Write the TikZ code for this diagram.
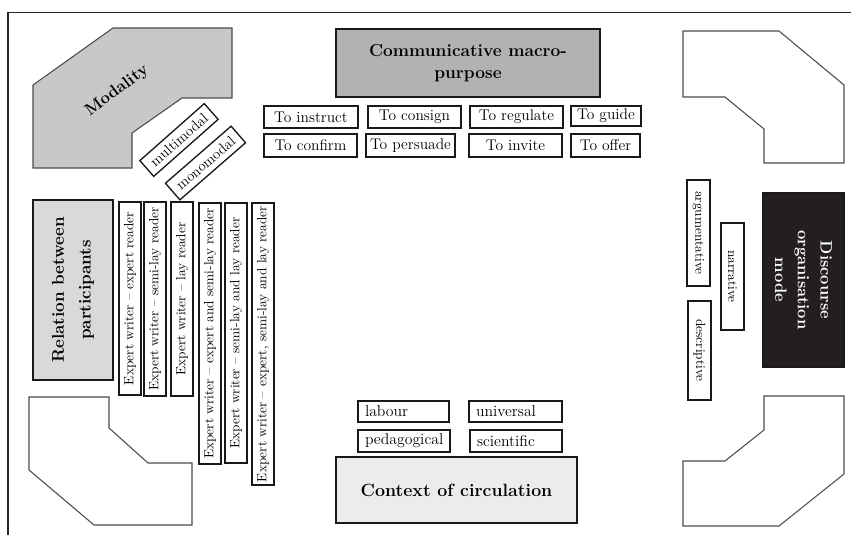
\documentclass[tikz,border=0pt]{standalone}
\usepackage{fontspec}
\begin{document}
\begin{tikzpicture}[x=0.75pt,y=-0.75pt,
  sz/.style 2 args={minimum width=#1*0.75pt, minimum height=#2*0.75pt},
  smallbox/.style={draw=black!90, line width=1pt, fill=white, inner sep=0pt, font=\fontsize{11.6}{13}\selectfont},
  vbox/.style={draw=black!90, line width=1pt, fill=white, inner sep=0pt, font=\fontsize{10}{12}\selectfont},
  bigbox/.style={draw=black!90, line width=1pt, inner sep=0pt, align=center, font=\bfseries\fontsize{13}{16.5}\selectfont},
  corner/.style={draw=black!70, line width=0.8pt, fill=white},
  leftbox/.style 2 args={draw=black!90, line width=1pt, fill=white, inner ysep=0pt, inner xsep=7*0.75pt,
     text width=(#1-14)*0.75pt, minimum height=#2*0.75pt, align=left, font=\fontsize{11.8}{13}\selectfont}
]
\useasboundingbox (0,0) rectangle (851,535);
% frame
\draw[line width=1pt, black!85] (8,535) -- (8,12.5) -- (851,12.5);

% corner shapes
\draw[corner, fill={rgb,255:red,200;green,200;blue,200}] (33,85) -- (113,28) -- (232,28) -- (232,98) -- (182,98) -- (132,133) -- (132,168) -- (33,168) -- cycle;
\draw[corner] (683,31) -- (779,31) -- (844,85) -- (844,163) -- (764,163) -- (764,129) -- (725,97) -- (683,97) -- cycle;
\draw[corner] (764,396) -- (844,396) -- (844,474) -- (779,526) -- (683,526) -- (683,461) -- (725,461) -- (764,430) -- cycle;
\draw[corner] (29,397) -- (109,397) -- (109,428) -- (148,463) -- (192,463) -- (192,525) -- (94,525) -- (29,470) -- cycle;

\node[font=\bfseries\fontsize{12.5}{14}\selectfont, rotate=37] (modality) at (117,91) {Modality};

% multimodal / monomodal
\node[smallbox, sz={86}{21}, rotate=41.5, font=\fontsize{11}{13}\selectfont] (multi) at (179,140) {multimodal};
\node[smallbox, sz={87}{22}, rotate=41, font=\fontsize{11}{13}\selectfont] (mono) at (205.5,163) {monomodal};

% communicative macro-purpose
\node[bigbox, sz={264}{68}, fill={rgb,255:red,178;green,178;blue,178}] (comm) at (468,63) {Communicative macro-\\purpose};
\node[smallbox, sz={94}{22}] (instruct) at (311,117) {To instruct};
\node[smallbox, sz={93}{22}] (consign) at (414.5,117) {To consign};
\node[smallbox, sz={93}{22}] (regulate) at (516.5,117) {To regulate};
\node[smallbox, sz={70}{20}] (guide) at (606,116) {To guide};
\node[smallbox, sz={93}{23}] (confirm) at (310.5,145.5) {To confirm};
\node[smallbox, sz={89}{23}] (persuade) at (410.5,145.5) {To persuade};
\node[smallbox, sz={93}{23}] (invite) at (515.5,145.5) {To invite};
\node[smallbox, sz={69}{23}] (offer) at (605.5,145.5) {To offer};

% relation between participants
\node[bigbox, sz={180}{80}, rotate=90, fill={rgb,255:red,217;green,217;blue,217}, font=\bfseries\fontsize{12.8}{20}\selectfont] (relation) at (73,290) {Relation between\\participants};
\node[vbox, sz={193}{22}, rotate=90] (v1) at (130,298.5) {Expert writer -- expert reader};
\node[vbox, sz={194}{22}, rotate=90] (v2) at (155,299) {Expert writer -- semi-lay reader};
\node[vbox, sz={194}{22}, rotate=90] (v3) at (182,299) {Expert writer -- lay reader};
\node[vbox, sz={261}{22}, rotate=90] (v4) at (210,333.5) {Expert writer -- expert and semi-lay reader};
\node[vbox, sz={260}{22}, rotate=90] (v5) at (236,333) {Expert writer -- semi-lay and lay reader};
\node[vbox, sz={282}{22}, rotate=90] (v6) at (263,344) {Expert writer -- expert, semi-lay and lay reader};

% discourse organisation mode
\node[bigbox, sz={174}{81}, rotate=-90, fill={rgb,255:red,35;green,31;blue,32}, text=white, font=\bfseries\fontsize{12.4}{17}\selectfont] (disc) at (803.5,280) {Discourse\\organisation\\mode};
\node[vbox, sz={106}{23}, rotate=-90] (arg) at (698.5,233) {argumentative};
\node[vbox, sz={107}{23}, rotate=-90] (narr) at (732.5,276.5) {narrative};
\node[vbox, sz={99}{23}, rotate=-90] (desc) at (699.5,350.5) {descriptive};

% context of circulation
\node[bigbox, sz={241}{66}, fill={rgb,255:red,236;green,236;blue,236}, font=\bfseries\fontsize{13.3}{15}\selectfont] (context) at (456.5,490) {Context of circulation};
\node[leftbox={91}{21}] (labour) at (403.5,411.5) {labour};
\node[leftbox={93}{21}] (universal) at (515.5,411.5) {universal};
\node[leftbox={92}{22}] (pedag) at (404,441) {pedagogical};
\node[leftbox={92}{22}] (scient) at (516,441) {scientific};
\end{tikzpicture}
\end{document}
